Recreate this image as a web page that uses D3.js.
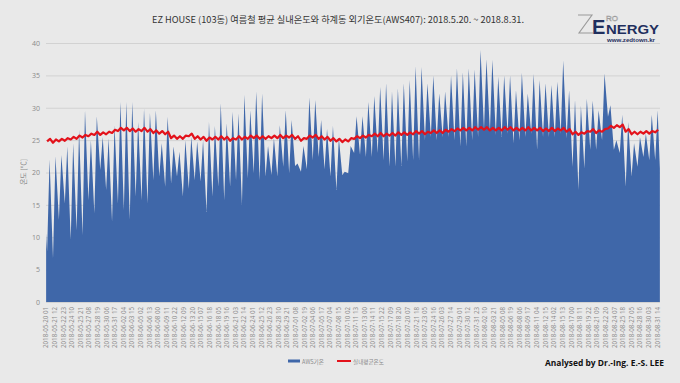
<!DOCTYPE html>
<html><head><meta charset="utf-8">
<script src="https://cdn.jsdelivr.net/npm/d3@7"></script>
<style>html,body{margin:0;padding:0;background:#e9e9e9;}svg{display:block;}</style>
</head><body>
<script>
// ---- data ----
const totalHours = 2496;              // hourly categories 2018-05-20 01h .. 2018-09-01 00h
const outdoorStart = 10.6;            // first hour value
const outdoorEnd = 20.6;              // last hour value
// outdoor (AWS) daily maximum, one per day from 05-20 to 08-31
const outdoorMax = [22.0,22.5,22.7,24.0,24.5,26.6,29.6,25.0,28.7,25.5,
  25.3,27.3,30.9,30.9,30.9,27.8,29.9,29.2,29.6,24.5,
  28.6,24.0,23.2,25.0,25.5,24.8,25.0,27.8,27.2,30.7,
  27.6,29.4,29.1,32.0,29.6,32.5,32.2,24.1,25.3,27.3,
  29.6,28.1,21.4,24.1,31.6,31.2,28.1,26.7,27.2,25.3,
  20.1,24.1,28.7,28.7,30.9,31.8,33.2,33.8,32.5,33.0,
  33.8,34.3,36.4,36.3,33.8,35.0,32.2,32.5,35.0,36.1,
  35.5,36.1,35.9,38.9,37.5,37.4,34.8,35.0,35.0,32.7,
  35.4,32.2,35.2,34.3,33.8,33.5,34.0,37.3,32.7,31.2,
  30.3,31.4,31.1,29.6,35.3,30.4,25.0,28.9,27.8,24.5,
  25.5,26.0,28.9,29.6];
// outdoor (AWS) early-morning minimum, one per day
const outdoorMin = [7.8,6.7,12.7,15.2,9.6,11.1,10.3,15.7,13.7,20.4,
  17.3,12.4,15.2,14.2,12.7,16.3,15.7,15.2,18.8,19.4,
  17.8,18.3,19.4,16.3,17.5,18.8,18.6,13.9,16.3,17.8,
  15.7,17.8,18.8,15.0,19.1,19.9,18.8,19.4,19.6,19.4,
  20.9,19.9,21.0,20.1,20.5,21.9,22.4,20.5,19.4,17.3,
  19.6,19.9,23.0,22.7,22.4,22.4,23.0,21.9,20.9,20.9,
  21.0,21.7,21.9,21.9,25.0,25.5,25.0,25.5,25.5,25.0,
  24.0,24.0,25.0,25.5,26.6,26.3,25.8,25.5,26.0,24.5,
  25.0,25.5,26.0,23.5,25.5,25.5,25.5,26.0,25.3,20.9,
  17.3,20.6,23.5,23.5,25.0,28.6,23.5,23.0,17.8,19.4,
  20.9,22.4,21.9,21.9];
// indoor average temperature, morning and afternoon, one per day
const indoorAM = [24.8,24.6,24.8,24.9,25.1,25.2,25.4,25.6,25.8,25.8,
  25.9,26.1,26.4,26.5,26.4,26.3,26.4,26.3,26.1,26.0,
  25.9,25.3,25.2,25.2,25.6,25.2,25.1,24.9,25.1,25.1,
  25.1,24.9,25.1,25.1,25.2,25.3,25.2,25.2,25.3,25.3,
  25.3,25.4,25.2,24.9,25.2,25.4,25.2,25.1,24.9,24.8,
  24.7,24.8,25.2,25.3,25.4,25.6,25.6,25.6,25.7,25.7,
  25.8,25.8,25.9,26.0,25.9,26.1,26.1,26.1,26.3,26.4,
  26.5,26.5,26.5,26.6,26.6,26.5,26.5,26.5,26.6,26.5,
  26.5,26.5,26.5,26.5,26.4,26.4,26.4,26.5,26.3,25.9,
  25.8,26.0,26.3,26.1,26.3,26.8,26.9,27.0,26.3,25.9,
  25.9,26.0,26.0,26.2];
const indoorPM = [25.2,25.1,25.2,25.3,25.5,25.7,25.8,26.0,26.3,26.2,
  26.3,26.6,26.9,26.9,26.8,26.7,26.9,26.7,26.5,26.4,
  26.3,25.7,25.6,25.7,26.0,25.6,25.5,25.4,25.5,25.6,
  25.5,25.3,25.6,25.5,25.7,25.7,25.6,25.6,25.7,25.8,
  25.7,25.8,25.6,25.3,25.7,25.8,25.6,25.5,25.3,25.2,
  25.1,25.3,25.6,25.7,25.8,26.0,26.1,26.0,26.1,26.2,
  26.2,26.2,26.4,26.4,26.3,26.5,26.5,26.6,26.7,26.8,
  26.9,26.9,27.0,27.0,27.0,26.9,26.9,27.0,27.0,26.9,
  26.9,27.0,26.9,26.9,26.8,26.9,26.8,26.9,26.7,26.3,
  26.2,26.4,26.7,26.5,26.7,27.2,27.3,27.4,26.7,26.3,
  26.3,26.4,26.4,26.6];
const minHour = 5, maxHour = 15, amHour = 5, pmHour = 17;
const yTicks = [0,5,10,15,20,25,30,35,40];
const xTickLabels = ["2018-05-20 01","2018-05-21 12","2018-05-22 23","2018-05-24 10","2018-05-25 21","2018-05-27 08","2018-05-28 19","2018-05-30 06","2018-05-31 17","2018-06-02 04",
"2018-06-03 15","2018-06-05 02","2018-06-06 13","2018-06-08 00","2018-06-09 11","2018-06-10 22","2018-06-12 09","2018-06-13 20","2018-06-15 07","2018-06-16 18",
"2018-06-18 05","2018-06-19 16","2018-06-21 03","2018-06-22 14","2018-06-24 01","2018-06-25 12","2018-06-26 23","2018-06-28 10","2018-06-29 21","2018-07-01 08",
"2018-07-02 19","2018-07-04 06","2018-07-05 17","2018-07-07 04","2018-07-08 15","2018-07-10 02","2018-07-11 13","2018-07-13 00","2018-07-14 11","2018-07-15 22",
"2018-07-17 09","2018-07-18 20","2018-07-20 07","2018-07-21 18","2018-07-23 05","2018-07-24 16","2018-07-26 03","2018-07-27 14","2018-07-29 01","2018-07-30 12",
"2018-07-31 23","2018-08-02 10","2018-08-03 21","2018-08-05 08","2018-08-06 19","2018-08-08 06","2018-08-09 17","2018-08-11 04","2018-08-12 15","2018-08-14 02",
"2018-08-15 13","2018-08-17 00","2018-08-18 11","2018-08-19 22","2018-08-21 09","2018-08-22 20","2018-08-24 07","2018-08-25 18","2018-08-27 05","2018-08-28 16",
"2018-08-30 03","2018-08-31 14"];
const labelEvery = 35;
const titleText = "EZ HOUSE (103동) 여름철 평균 실내온도와 하계동 외기온도(AWS407):  2018.5.20.  ~ 2018.8.31.";
const yTitle = "온도 [℃]";
const legendNames = ["AWS기온","실내평균온도"];

// ---- drawing ----
const W = 680, H = 383;
const m = {left:46, right:660, top:43, bottom:302};
const svg = d3.select("body").append("svg").attr("width",W).attr("height",H);
svg.append("rect").attr("width",W).attr("height",H).attr("fill","#e9e9e9");

const x = d3.scaleLinear().domain([0,totalHours]).range([m.left,m.right]);
const y = d3.scaleLinear().domain([0,40]).range([m.bottom,m.top]);

// hourly index: 0 = 05-20 01h
const idx = (d,h) => d*24 + h - 1;

const outdoor = [{i:0,v:outdoorStart}];
outdoorMax.forEach((mx,d)=>{
  outdoor.push({i:idx(d,minHour), v:outdoorMin[d]});
  outdoor.push({i:idx(d,maxHour), v:mx});
});
outdoor.push({i:totalHours-1, v:outdoorEnd});

const indoor = [];
indoorAM.forEach((a,d)=>{
  indoor.push({i:idx(d,amHour), v:a});
  indoor.push({i:idx(d,pmHour), v:indoorPM[d]});
});

// gridlines
const yAxis = d3.axisLeft(y).tickValues(yTicks).tickSize(-(m.right-m.left)).tickPadding(6);
const gy = svg.append("g").attr("transform",`translate(${m.left},0)`).call(yAxis);
gy.select(".domain").remove();
gy.selectAll(".tick line").attr("stroke","#d2d2d2").attr("stroke-width",1);
gy.selectAll(".tick text").attr("fill","#8a8a8a").attr("font-size","7px")
  .attr("font-family","'Open Sans','Noto Sans',sans-serif");

// outdoor area
svg.append("path").datum(outdoor)
  .attr("fill","#3f67a9")
  .attr("d", d3.area().x(p=>x(p.i+0.5)).y0(y(0)).y1(p=>y(p.v)));

// indoor line
svg.append("path").datum(indoor)
  .attr("fill","none").attr("stroke","#e3121b").attr("stroke-width",2.2)
  .attr("stroke-linejoin","round")
  .attr("d", d3.line().x(p=>x(p.i+0.5)).y(p=>y(p.v)));

// x labels
const gx = svg.append("g");
xTickLabels.forEach((t,k)=>{
  const xi = x(k*labelEvery+0.5);
  gx.append("text").attr("transform",`translate(${xi+2.2},307) rotate(-90)`)
    .attr("text-anchor","end").attr("font-size","6.2px").attr("fill","#8a8a8a")
    .attr("font-family","'Open Sans','Noto Sans',sans-serif").text(t);
});

// y title
svg.append("text").attr("transform","translate(26,172) rotate(-90)")
  .attr("text-anchor","middle").attr("font-size","7px").attr("fill","#8a8a8a")
  .attr("font-family","'Noto Sans CJK KR',sans-serif").text(yTitle);

// title
svg.append("text").attr("x",152).attr("y",23).attr("textLength",372).attr("lengthAdjust","spacingAndGlyphs")
  .attr("font-size","9px").attr("fill","#333")
  .attr("font-family","'Noto Sans CJK KR',sans-serif").text(titleText);

// legend
svg.append("rect").attr("x",288).attr("y",359.5).attr("width",12).attr("height",3).attr("fill","#3f67a9");
svg.append("text").attr("x",302).attr("y",363.5).attr("font-size","5.6px").attr("fill","#8a8a8a")
  .attr("font-family","'Noto Sans CJK KR',sans-serif").text(legendNames[0]);
svg.append("line").attr("x1",337).attr("x2",351).attr("y1",361).attr("y2",361).attr("stroke","#e3121b").attr("stroke-width",2);
svg.append("text").attr("x",353).attr("y",363.5).attr("font-size","5.6px").attr("fill","#8a8a8a")
  .attr("font-family","'Noto Sans CJK KR',sans-serif").text(legendNames[1]);

// credit
svg.append("text").attr("x",545).attr("y",366).attr("textLength",119).attr("lengthAdjust","spacingAndGlyphs")
  .attr("font-size","9.5px").attr("font-weight","bold").attr("fill","#111")
  .attr("font-family","'Open Sans','Noto Sans',sans-serif").text("Analysed by Dr.-Ing. E.-S. LEE");

// logo
const lg = svg.append("g");
lg.append("path").attr("d","M578,15 L592,15 L579,33 L593,33").attr("fill","none").attr("stroke","#9a9a9a").attr("stroke-width",1.1);
lg.append("text").attr("x",592).attr("y",34).attr("font-size","20px").attr("font-weight","bold")
  .attr("fill","#1f2f5e").attr("font-family","'Liberation Sans',Arial,sans-serif").text("E");
lg.append("text").attr("x",606).attr("y",20.5).attr("font-size","8px")
  .attr("fill","none").attr("stroke","#9a9a9a").attr("stroke-width",0.5)
  .attr("font-family","'Liberation Sans',Arial,sans-serif").text("RO");
lg.append("text").attr("x",606).attr("y",34).attr("textLength",53).attr("lengthAdjust","spacingAndGlyphs")
  .attr("font-size","12.5px").attr("font-weight","bold")
  .attr("fill","#1f2f5e").attr("font-family","'Liberation Sans',Arial,sans-serif").text("NERGY");
lg.append("text").attr("x",607).attr("y",41.5).attr("textLength",48).attr("lengthAdjust","spacingAndGlyphs")
  .attr("font-size","5.5px").attr("font-weight","bold")
  .attr("fill","#1f2f5e").attr("font-family","'Liberation Sans',Arial,sans-serif").text("www.zedtown.kr");
</script>
</body></html>
